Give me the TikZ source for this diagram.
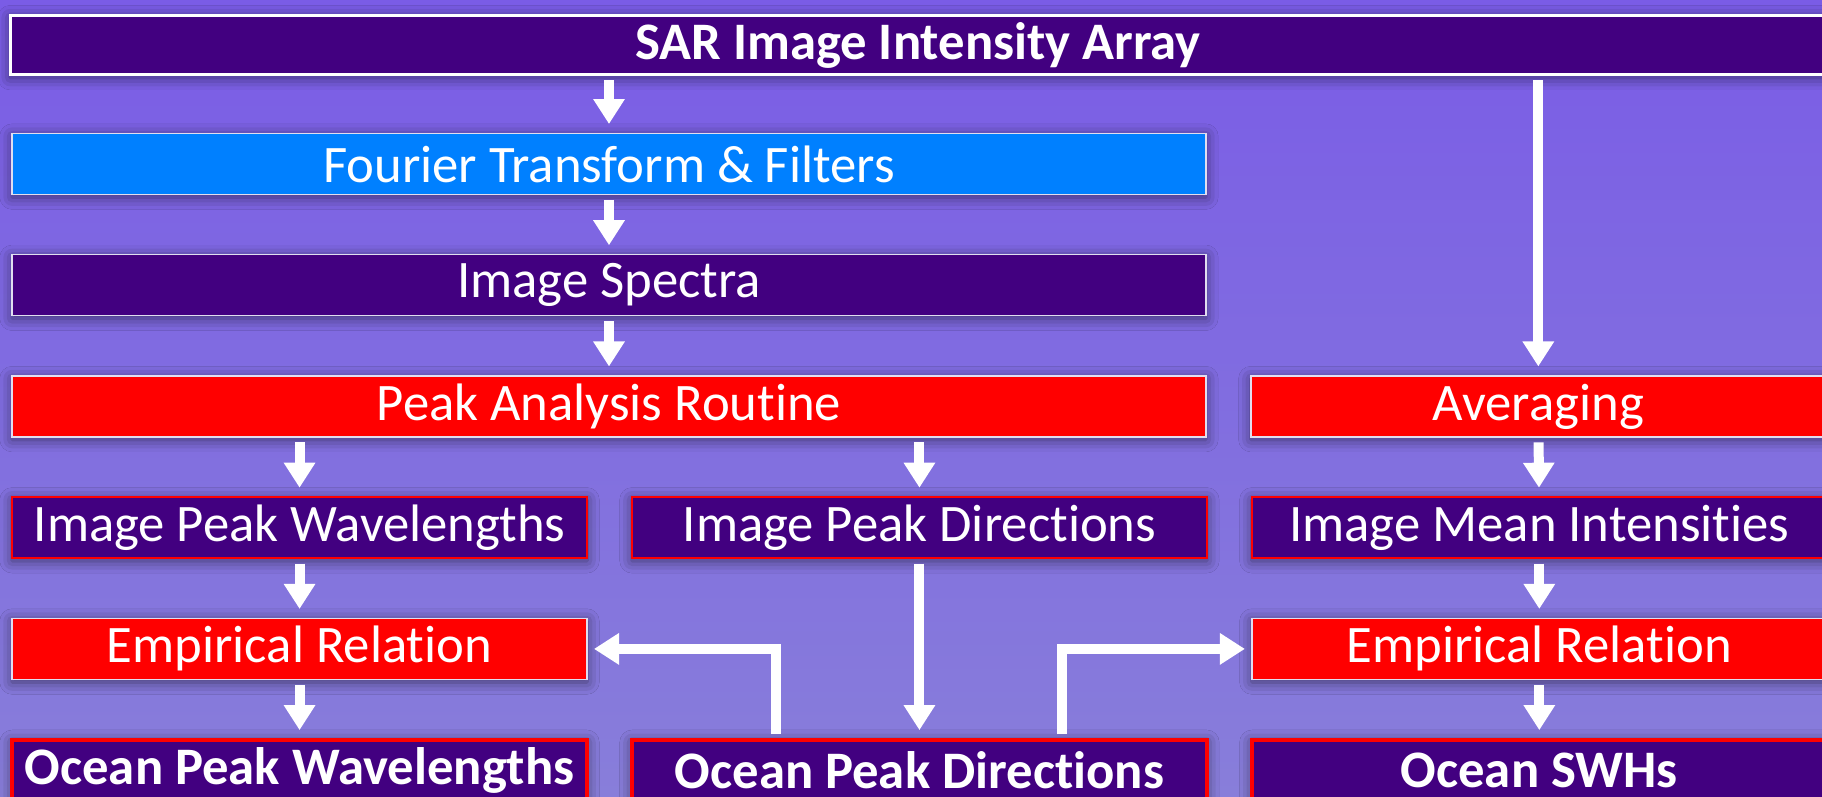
\documentclass[tikz,border=0pt]{standalone}
\usepackage{fontspec}
\setmainfont{Carlito}[Ligatures=NoCommon]
\usetikzlibrary{positioning,arrows.meta,shadows.blur}

\definecolor{bgtop}{RGB}{122,92,230}
\definecolor{bgbot}{RGB}{136,126,218}
\definecolor{deeppurple}{RGB}{66,0,128}
\definecolor{skyblue}{RGB}{0,128,255}
\definecolor{thinedge}{RGB}{225,222,240}

\begin{document}
\begin{tikzpicture}[x=0.02cm,y=-0.02cm,
  box/.style={rectangle,minimum height=1.22cm,minimum width=11.5cm,inner sep=0pt,outer sep=0pt,text=white,
    font=\fontsize{30}{36}\selectfont,
    blur shadow={shadow xshift=0pt,shadow yshift=-1.5pt,shadow blur radius=7pt,shadow opacity=55}},
  redbox/.style={box,fill=red,draw=thinedge,line width=0.03cm},
  purplebox/.style={box,fill=deeppurple,draw=red,line width=0.03cm},
  oceanbox/.style={box,fill=deeppurple,draw=red,line width=0.08cm,font=\fontsize{30}{36}\selectfont\bfseries},
  flow/.style={-{Triangle[width=0.6cm,length=0.5cm]},line width=0.2cm,white,
    shorten <=0.11cm,shorten >=0.19cm}]

\fill[top color=bgtop,bottom color=bgbot] (0,0) rectangle (1822,797);
\useasboundingbox (0,0) rectangle (1822,797);
\clip (0,0) rectangle (1822,797);

\node[box,fill=deeppurple,draw=white,line width=0.06cm,minimum width=36.32cm,minimum height=1.2cm,
  font=\fontsize{30}{36}\selectfont\bfseries] (sar) at (918,45) {SAR Image Intensity Array};
\node[box,fill=skyblue,draw=thinedge,line width=0.03cm,minimum width=23.88cm] (ft) at (609,164) {Fourier Transform \& Filters};
\node[box,fill=deeppurple,draw=thinedge,line width=0.03cm,minimum width=23.88cm,below=1.205cm of ft] (spec) {Image Spectra};
\node[redbox,minimum width=23.88cm,below=1.205cm of spec] (par) {Peak Analysis Routine};
\node[redbox,right=0.9cm of par] (avg) {Averaging};

\node[purplebox,below=1.205cm of par.south west,anchor=north west] (ipw) {Image Peak Wavelengths};
\node[purplebox,right=0.9cm of ipw] (ipd) {Image Peak Directions};
\node[purplebox,right=0.9cm of ipd] (imi) {Image Mean Intensities};

\node[redbox,below=1.205cm of ipw] (emp1) {Empirical Relation};
\node[redbox,below=1.205cm of imi] (emp2) {Empirical Relation};

\node[oceanbox,below=1.205cm of emp1] (opw) {Ocean Peak Wavelengths};
\node[oceanbox,right=0.9cm of opw] (odir) {Ocean Peak Directions};
\node[oceanbox,right=0.9cm of odir] (oswh) {Ocean SWHs};

\draw[flow] (sar.south -| ft.north) -- (ft.north);
\draw[flow] (ft) -- (spec);
\draw[flow] (spec) -- (par);
\draw[flow] (sar.south -| avg.north) -- (avg.north);

\draw[flow] (par.south -| ipw.north) -- (ipw.north);
\draw[flow] (par.south -| ipd.north) -- (ipd.north);
\draw[flow] (avg) -- (imi);

\draw[flow] (ipw) -- (emp1);
\draw[flow] (emp1) -- (opw);
\draw[flow] (ipd) -- (odir);
\draw[flow] (imi) -- (emp2);
\draw[flow] (emp2) -- (oswh);

%side branches
\draw[flow,shorten >=0.14cm] ([xshift=-2.87cm]odir.north) |- (emp1.east);
\draw[flow,shorten >=0.14cm] ([xshift=2.85cm]odir.north) |- (emp2.west);
\end{tikzpicture}
\end{document}
